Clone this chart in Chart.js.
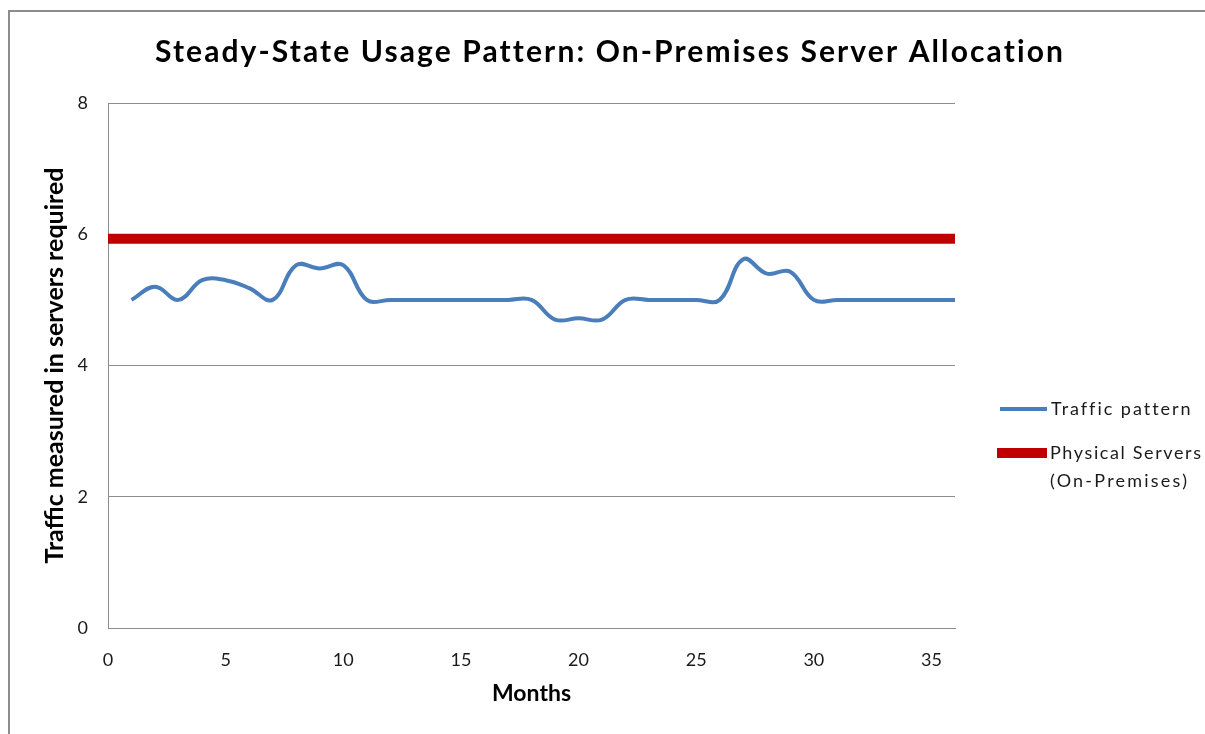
<!DOCTYPE html>
<html>
<head>
<meta charset="utf-8">
<script src="https://cdn.jsdelivr.net/npm/chart.js@4"></script>
<style>
  html, body { margin: 0; padding: 0; background: #fff; overflow: hidden; }
  #frame { position: absolute; left: 8px; top: 10px; width: 1400px; height: 900px;
           border-left: 2px solid #8c8c8c; border-top: 2px solid #8c8c8c; }
  #wrap { position: absolute; left: 0; top: 0; width: 1205px; height: 734px; }
</style>
</head>
<body>
<div id="frame"></div>
<div id="wrap"><canvas id="MyChart" width="1205" height="734"></canvas></div>
<script>
// Dữ liệu
const months = [1, 2, 3, 4, 5, 6, 7, 8, 9, 10, 11, 12, 13, 14, 15, 16, 17, 18,
                19, 20, 21, 22, 23, 24, 25, 26, 27, 28, 29, 30, 31, 32, 33, 34, 35, 36];
const traffic = [5.0, 5.2, 5.0, 5.3, 5.3, 5.18, 5.0, 5.53, 5.48, 5.53, 5.0, 5.0,
                 5.0, 5.0, 5.0, 5.0, 5.0, 5.0, 4.7, 4.72, 4.7, 5.0, 5.0, 5.0,
                 5.0, 5.0, 5.62, 5.4, 5.43, 5.0, 5.0, 5.0, 5.0, 5.0, 5.0, 5.0];
const serverMonths = [0, 36];
const serverLevel = [5.93, 5.93];
const xTicks = [0, 5, 10, 15, 20, 25, 30, 35];
const yTicks = [0, 2, 4, 6, 8];

const chartTitle = 'Steady-State Usage Pattern: On-Premises Server Allocation';
const FONT = "Lato, 'Open Sans', sans-serif";

// vẽ chữ, giãn ký tự cho khớp độ rộng
function fitText(ctx, text, x, y, width) {
    ctx.letterSpacing = '0px';
    const w0 = ctx.measureText(text).width;
    const sp = Math.max(0, (width - w0) / Math.max(1, text.length - 1));
    ctx.letterSpacing = sp.toFixed(2) + 'px';
    ctx.fillText(text, x, y);
    ctx.letterSpacing = '0px';
}

// Tiêu đề và chú thích vẽ tay
const extrasPlugin = {
    id: 'extras',
    afterDraw(chart) {
        const ctx = chart.ctx;
        ctx.save();
        ctx.fillStyle = '#000';
        ctx.textBaseline = 'alphabetic';
        ctx.textAlign = 'left';
        ctx.font = "bold 30px " + FONT;
        fitText(ctx, chartTitle, 155, 62, 907);

        ctx.lineCap = 'butt';
        ctx.strokeStyle = '#4a7ebb';
        ctx.lineWidth = 4;
        ctx.beginPath(); ctx.moveTo(1000, 409); ctx.lineTo(1047, 409); ctx.stroke();
        ctx.strokeStyle = '#c00000';
        ctx.lineWidth = 10;
        ctx.beginPath(); ctx.moveTo(997, 453); ctx.lineTo(1047, 453); ctx.stroke();

        ctx.fillStyle = '#1a1a1a';
        ctx.font = "18px " + FONT;
        ctx.textBaseline = 'middle';
        fitText(ctx, chart.data.datasets[0].label, 1051, 409, 138);
        fitText(ctx, 'Physical Servers', 1050, 453, 151);
        fitText(ctx, '(On-Premises)', 1050, 481, 137);
        ctx.restore();
    }
};

const ctx = document.getElementById('MyChart').getContext('2d');
const chart = new Chart(ctx, {
    type: 'line',
    data: {
        datasets: [{
            label: 'Traffic pattern',
            data: months.map((m, i) => ({ x: m, y: traffic[i] })),
            borderColor: '#4a7ebb',
            borderWidth: 4,
            pointRadius: 0,
            tension: 0.4,
            fill: false
        }, {
            label: 'Physical Servers (On-Premises)',
            data: serverMonths.map((m, i) => ({ x: m, y: serverLevel[i] })),
            borderColor: '#c00000',
            borderWidth: 10,
            borderCapStyle: 'butt',
            pointRadius: 0,
            tension: 0,
            fill: false
        }]
    },
    options: {
        responsive: false,
        animation: false,
        layout: { padding: { left: 0, right: 250, top: 103, bottom: 0 } },
        plugins: {
            legend: { display: false },
            tooltip: { enabled: false },
            title: { display: false }
        },
        scales: {
            x: {
                type: 'linear',
                min: 0,
                max: 36,
                afterFit: s => { s.height = 106; },
                afterBuildTicks: s => { s.ticks = xTicks.map(v => ({ value: v })); },
                ticks: { stepSize: 5, includeBounds: false, color: '#1a1a1a', padding: 21,
                         maxRotation: 0, font: { family: FONT, size: 18 } },
                grid: { display: false, drawTicks: false },
                border: { display: true, color: '#8c8c8c', width: 1 },
                title: {
                    display: true, text: 'Months', color: '#000',
                    font: { family: FONT, size: 23, weight: 'bold', lineHeight: 1.2 },
                    padding: { top: 0, bottom: 27 }
                }
            },
            y: {
                min: 0,
                max: 8,
                afterFit: s => { s.width = 108; },
                afterBuildTicks: s => { s.ticks = yTicks.map(v => ({ value: v })); },
                ticks: { stepSize: 2, color: '#1a1a1a', padding: 20,
                         font: { family: FONT, size: 18 } },
                grid: { color: '#8c8c8c', lineWidth: 1, drawTicks: false },
                border: { display: true, color: '#8c8c8c', width: 1 },
                title: {
                    display: true, text: 'Traffic measured in servers required', color: '#000',
                    font: { family: FONT, size: 25, weight: 'bold', lineHeight: 1.2 },
                    padding: { top: 40, bottom: 0 }
                }
            }
        }
    },
    plugins: [extrasPlugin]
});
</script>
</body>
</html>
